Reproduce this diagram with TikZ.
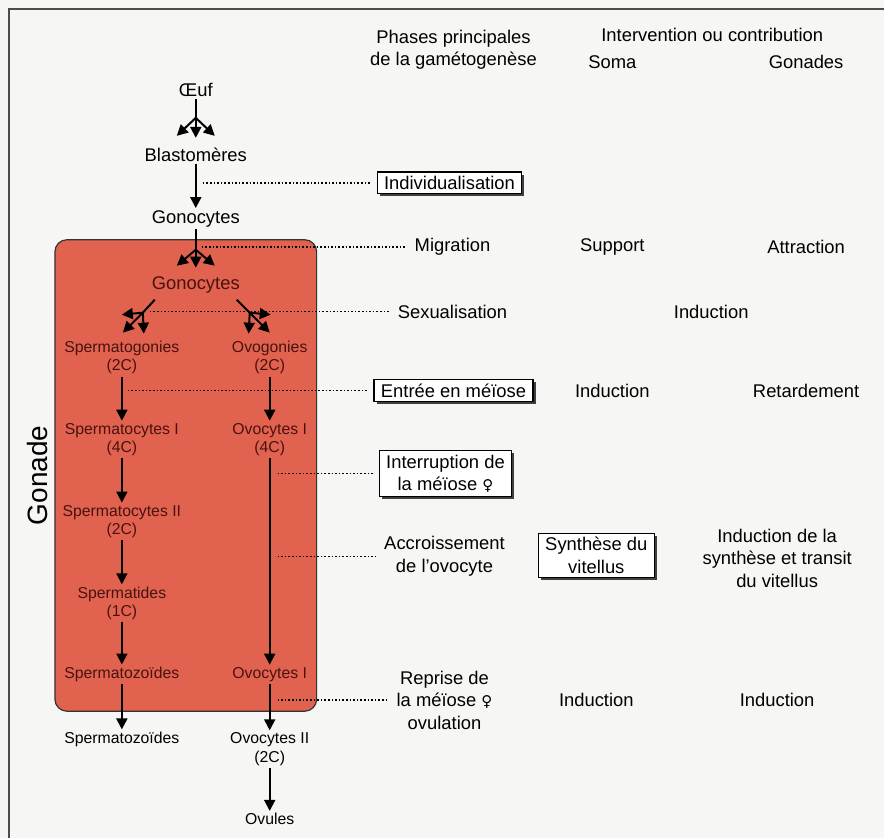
\documentclass[tikz,border=0pt]{standalone}
\usepackage{fontspec}
\setmainfont{Liberation Sans}
\newfontfamily\symbfont{DejaVu Sans}
\usepackage{tikz}
\usetikzlibrary{arrows.meta,shadows}
\definecolor{fond}{RGB}{246,246,244}
\definecolor{gonade}{RGB}{226,98,80}
\definecolor{brun}{RGB}{72,18,14}
\newcommand{\fem}{{\symbfont\fontsize{7.5}{9}\selectfont ♀}}

\begin{document}
\begin{tikzpicture}[x=0.5pt,y=-0.5pt,
txt/.style = {font=\fontsize{9.2}{11.2}\selectfont, align=center, inner sep=1pt},
cel/.style = {font=\fontsize{7.9}{9.3}\selectfont, align=center, inner sep=1pt},
gon/.style = {cel, text=brun},
cadre/.style = {txt, draw, fill=white, line width=0.6pt, inner xsep=3.5pt, inner ysep=2pt, drop shadow={shadow xshift=1.3pt, shadow yshift=-1.3pt, fill=black!75, opacity=1}},
fl/.style = {line width=1pt, -{Triangle[length=5.5pt,width=5.5pt]}},
pt/.style = {densely dotted, line width=0.8pt, shorten >=3pt}]
\fill[fond] (0,0) rectangle (885,839);
\draw[line width=1pt, black!70] (9,839) -- (9,9) -- (885,9);
\draw[fill=gonade, draw=black!80, line width=0.6pt, rounded corners=6pt] (55,240) rectangle (317,712);

\node[txt] (h1) at (454,50) {Phases principales\\de la gamétogenèse};
\node[txt] (h2) at (713,35) {Intervention ou contribution};
\node[txt] (soma) at (613,62) {Soma};
\node[txt] (gonades) at (807,62) {Gonades};
\node[font=\fontsize{14}{16}\selectfont, rotate=90] (gonade) at (38,476) {Gonade};

\node[txt] (oeuf) at (196,90) {Œuf};
\node[txt] (blast) at (196,155) {Blastomères};
\node[txt] (gono) at (196,219) {Gonocytes};
\node[txt, text=brun] (gonoi) at (196,285) {Gonocytes};
\node[gon] (spg) at (122,358) {Spermatogonies\\(2C)};
\node[gon] (ovg) at (270,358) {Ovogonies\\(2C)};
\node[gon] (spc1) at (122,440) {Spermatocytes I\\(4C)};
\node[gon] (ovc1) at (270,440) {Ovocytes I\\(4C)};
\node[gon] (spc2) at (122,522) {Spermatocytes II\\(2C)};
\node[gon] (spt) at (122,604) {Spermatides\\(1C)};
\node[gon] (spz) at (122,675) {Spermatozoïdes};
\node[gon] (ovc1b) at (270,675) {Ovocytes I};
\node[cel] (spzo) at (122,740) {Spermatozoïdes};
\node[cel] (ovc2) at (270,750) {Ovocytes II\\(2C)};
\node[cel] (ovu) at (270,820) {Ovules};

\node[cadre] (indiv) at (450,183) {Individualisation};
\node[txt] (migr) at (453,247) {Migration};
\node[txt] (support) at (613,247) {Support};
\node[txt] (attr) at (807,247) {Attraction};
\node[txt] (sexu) at (453,312) {Sexualisation};
\node[txt] (induc1) at (712,312) {Induction};
\node[cadre] (entree) at (454,391) {Entrée en méïose};
\node[txt] (induc2) at (613,391) {Induction};
\node[txt] (retard) at (807,391) {Retardement};
\node[cadre] (interr) at (446,474) {Interruption de\\la méïose \fem};
\node[txt] (accr) at (445,557) {Accroissement\\de l'ovocyte};
\node[cadre] (synth) at (597,556) {Synthèse du\\vitellus};
\node[txt] (indsyn) at (778,559) {Induction de la\\synthèse et transit\\du vitellus};
\node[txt] (reprise) at (445,701) {Reprise de\\la méïose \fem\\ovulation};
\node[txt] (induc3) at (597,701) {Induction};
\node[txt] (induc4) at (778,701) {Induction};

\coordinate (f1) at (196,118);
\coordinate (f2) at (196,250);
\coordinate (s1) at (155,300);
\coordinate (f3) at (143,313);
\coordinate (s2) at (237,300);
\coordinate (f4) at (250,313);
\draw[line width=1pt] (oeuf) -- (f1);
\foreach \dx/\dy in {-19/18,0/20,19/18} \draw[fl] (f1) -- ++(\dx,\dy);
\draw[line width=1pt] (gono) -- (f2);
\foreach \dx/\dy in {-19/16,0/18,19/16} \draw[fl] (f2) -- ++(\dx,\dy);
\draw[line width=1pt] (s1) -- (f3);
\foreach \dx/\dy in {-21/2,-20/20,1/21} \draw[fl] (f3) -- ++(\dx,\dy);
\draw[line width=1pt] (s2) -- (f4);
\foreach \dx/\dy in {21/2,20/20,-1/21} \draw[fl] (f4) -- ++(\dx,\dy);

\draw[fl] (blast) -- (gono);
\draw[fl] (spg) -- (spc1);
\draw[fl] (ovg) -- (ovc1);
\draw[fl] (spc1) -- (spc2);
\draw[fl] (spc2) -- (spt);
\draw[fl] (spt) -- (spz);
\draw[fl] (spz) -- (spzo);
\draw[fl] (ovc1) -- (ovc1b);
\draw[fl] (ovc1b) -- (ovc2);
\draw[fl] (ovc2) -- (ovu);

\coordinate (d1) at (203,183);
\coordinate (d2) at (202,247);
\coordinate (d3) at (150,312);
\coordinate (d4) at (128,391);
\coordinate (d5) at (278,474);
\coordinate (d6) at (278,557);
\coordinate (d7) at (278,701);
\draw[pt] (d1) -- (indiv);
\draw[pt] (d2) -- (migr);
\draw[pt] (d3) -- (sexu);
\draw[pt] (d4) -- (entree);
\draw[pt] (d5) -- (interr);
\draw[pt] (d6) -- (accr);
\draw[pt] (d7) -- (reprise);
\end{tikzpicture}
\end{document}
